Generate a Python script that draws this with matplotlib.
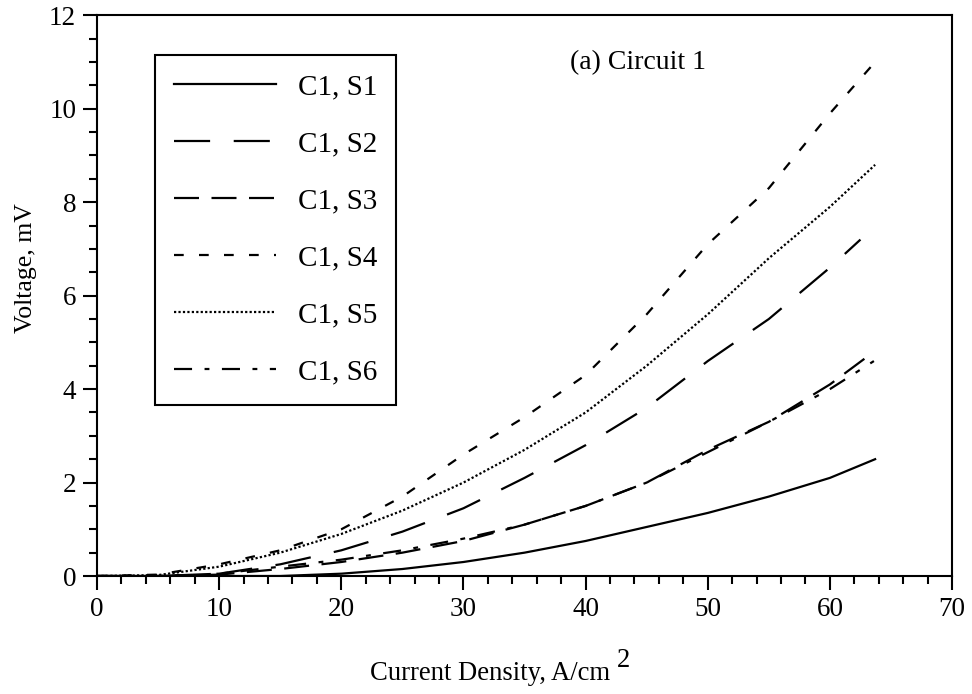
#voltage vs current density curves for circuit 1, six samples

import matplotlib.pyplot as plt
from matplotlib.ticker import MultipleLocator

plt.rcParams['font.family'] = ['Liberation Serif', 'DejaVu Serif']
plt.rcParams['lines.scale_dashes'] = False

#values
x_s1 = [0, 5, 10, 15, 20, 25, 30, 35, 40, 45, 50, 55, 60, 63.7]
v_s1 = [0, 0, 0, 0.0, 0.05, 0.15, 0.3, 0.5, 0.75, 1.05, 1.35, 1.7, 2.1, 2.5]

x_s2 = [0, 5, 10, 15, 20, 25, 30, 35, 40, 45, 50, 55, 60, 62.5]
v_s2 = [0, 0, 0.05, 0.25, 0.55, 0.95, 1.45, 2.1, 2.8, 3.6, 4.6, 5.5, 6.6, 7.2]

x_s3 = [0, 5, 10, 15, 20, 25, 30, 35, 40, 45, 50, 55, 60, 63.6]
v_s3 = [0, 0, 0.03, 0.15, 0.3, 0.5, 0.75, 1.1, 1.5, 2.0, 2.7, 3.3, 4.1, 4.8]

x_s4 = [0, 5, 10, 15, 20, 25, 30, 35, 40, 45, 50, 55, 60, 63.7]
v_s4 = [0, 0.03, 0.25, 0.55, 1.0, 1.7, 2.6, 3.4, 4.3, 5.6, 7.1, 8.3, 9.9, 11.0]

x_s5 = [0, 5, 10, 15, 20, 25, 30, 35, 40, 45, 50, 55, 60, 63.7]
v_s5 = [0, 0.02, 0.2, 0.5, 0.9, 1.4, 2.0, 2.7, 3.5, 4.5, 5.6, 6.8, 7.9, 8.8]

x_s6 = [0, 5, 10, 15, 20, 25, 30, 35, 40, 45, 50, 55, 60, 63.6]
v_s6 = [0, 0, 0.05, 0.2, 0.35, 0.55, 0.8, 1.1, 1.5, 2.0, 2.65, 3.3, 4.0, 4.6]

labels = ['C1, S1', 'C1, S2', 'C1, S3', 'C1, S4', 'C1, S5', 'C1, S6']

fig = plt.figure(figsize=(9.72, 6.94), dpi=100)
ax = fig.add_axes([0.0998, 0.170, 0.8797, 0.808])

lw = 1.6
ax.plot(x_s1, v_s1, color='black', lw=lw, linestyle='-', label=labels[0])
ax.plot(x_s2, v_s2, color='black', lw=lw, linestyle=(0, (26, 17)), label=labels[1])
ax.plot(x_s3, v_s3, color='black', lw=lw, linestyle=(0, (18, 9)), label=labels[2])
ax.plot(x_s4, v_s4, color='black', lw=lw, linestyle=(0, (7, 11)), label=labels[3])
ax.plot(x_s5, v_s5, color='black', lw=lw, linestyle=(0, (1.6, 1.6)), label=labels[4])
ax.plot(x_s6, v_s6, color='black', lw=lw, linestyle=(0, (13, 9, 3.5, 9)), label=labels[5])

ax.set_xlim(0, 70)
ax.set_ylim(0, 12)
ax.xaxis.set_major_locator(MultipleLocator(10))
ax.xaxis.set_minor_locator(MultipleLocator(2))
ax.yaxis.set_major_locator(MultipleLocator(2))
ax.yaxis.set_minor_locator(MultipleLocator(0.5))
ax.tick_params(which='major', direction='out', length=10, width=1.5, labelsize=19.5, pad=5)
ax.tick_params(which='minor', direction='out', length=6, width=1.5)
for s in ax.spines.values():
    s.set_linewidth(1.5)

#x label with a full size raised "2" as in the original
ax.set_xlabel('Current Density, A/cm', fontsize=19.2, va='baseline')
ax.xaxis.set_label_coords(0.4596, -0.185)
ax.text(0.608, -0.162, '2', transform=ax.transAxes, fontsize=19.2, va='baseline')

ax.set_ylabel('Voltage, mV', fontsize=18.5)
ax.yaxis.set_label_coords(-0.070, 0.549)

ax.text(0.553, 0.916, '(a) Circuit 1', transform=ax.transAxes, fontsize=20, va='center')

leg = ax.legend(loc='upper left', bbox_to_anchor=(0.068, 0.929), borderaxespad=0,
                fontsize=21, frameon=True, fancybox=False, edgecolor='black',
                framealpha=1, handlelength=3.5, labelspacing=1.05, borderpad=0.65,
                handletextpad=0.75)
leg.get_frame().set_linewidth(1.5)

plt.savefig('out.png', dpi=100)
